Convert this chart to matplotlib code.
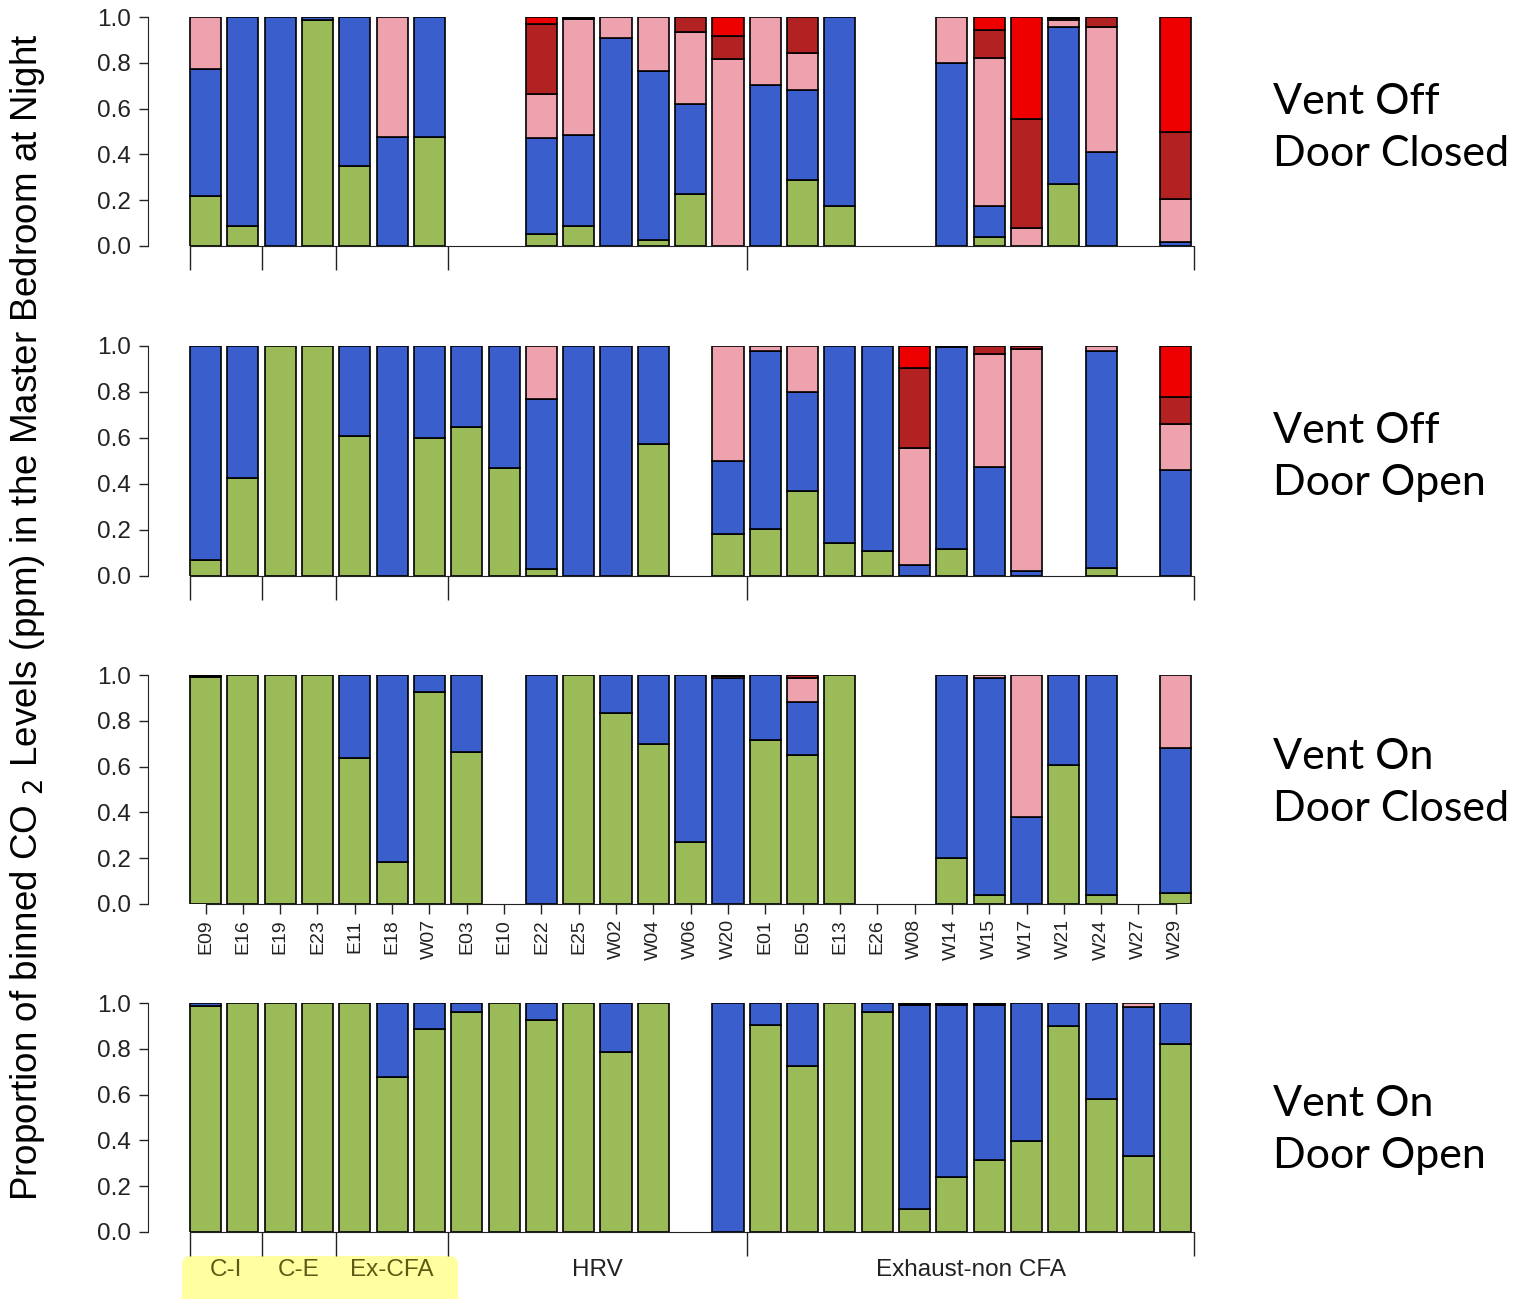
import matplotlib
matplotlib.use("Agg")
import matplotlib.pyplot as plt
from matplotlib.patches import FancyBboxPatch
import numpy as np

# houses in plotting order, with their ventilation groups
houses = ["E09", "E16", "E19", "E23", "E11", "E18", "W07", "E03", "E10", "E22",
          "E25", "W02", "W04", "W06", "W20", "E01", "E05", "E13", "E26", "W08",
          "W14", "W15", "W17", "W21", "W24", "W27", "W29"]
group_names = ["C-I", "C-E", "Ex-CFA", "HRV", "Exhaust-non CFA"]
group_sizes = [2, 2, 3, 8, 12]

# proportion of night hours in each CO2 bin (lowest -> highest), 0 = no data
# Vent Off / Door Closed
off_closed_bin1 = [.22, .087, 0, .986, .351, 0, .478, 0, 0, .053, .087, 0, .026, .228, 0,
                   0, .289, .175, 0, 0, 0, .04, 0, .27, 0, 0, 0]
off_closed_bin2 = [.555, .913, 1, .014, .649, .474, .522, 0, 0, .42, .397, .91, .737, .392, 0,
                   .701, .393, .825, 0, 0, .798, .135, 0, .687, .412, 0, .019]
off_closed_bin3 = [.225, 0, 0, 0, 0, .526, 0, 0, 0, .192, .506, .09, .237, .316, .815,
                   .299, .16, 0, 0, 0, .202, .647, .08, .03, .545, 0, .188]
off_closed_bin4 = [0, 0, 0, 0, 0, 0, 0, 0, 0, .306, .007, 0, 0, .064, .103,
                   0, .158, 0, 0, 0, 0, .122, .473, .008, .043, 0, .292]
off_closed_bin5 = [0, 0, 0, 0, 0, 0, 0, 0, 0, .029, .003, 0, 0, 0, .082,
                   0, 0, 0, 0, 0, 0, .056, .447, .005, 0, 0, .501]

# Vent Off / Door Open
off_open_bin1 = [.07, .428, 1, 1, .609, 0, .601, .649, .468, .029, 0, 0, .575, 0, .183,
                 .203, .371, .142, .109, 0, .116, 0, 0, 0, .033, 0, 0]
off_open_bin2 = [.93, .572, 0, 0, .391, 1, .399, .351, .532, .742, 1, 1, .425, 0, .317,
                 .777, .428, .858, .891, .048, .878, .475, .022, 0, .947, 0, .459]
off_open_bin3 = [0, 0, 0, 0, 0, 0, 0, 0, 0, .229, 0, 0, 0, 0, .5,
                 .02, .201, 0, 0, .507, 0, .49, .964, 0, .02, 0, .202]
off_open_bin4 = [0, 0, 0, 0, 0, 0, 0, 0, 0, 0, 0, 0, 0, 0, 0,
                 0, 0, 0, 0, .351, .004, .035, .014, 0, 0, 0, .116]
off_open_bin5 = [0, 0, 0, 0, 0, 0, 0, 0, 0, 0, 0, 0, 0, 0, 0,
                 0, 0, 0, 0, .094, .002, 0, 0, 0, 0, 0, .223]

# Vent On / Door Closed
on_closed_bin1 = [.993, 1, 1, 1, .636, .183, .926, .663, 0, 0, 1, .832, .697, .27, 0,
                  .717, .649, 1, 0, 0, .202, .041, 0, .608, .041, 0, .046]
on_closed_bin2 = [.003, 0, 0, 0, .364, .817, .074, .337, 0, 1, 0, .168, .303, .73, .988,
                  .283, .231, 0, 0, 0, .798, .947, .379, .392, .959, 0, .636]
on_closed_bin3 = [.002, 0, 0, 0, 0, 0, 0, 0, 0, 0, 0, 0, 0, 0, .009,
                  0, .108, 0, 0, 0, 0, .012, .621, 0, 0, 0, .318]
on_closed_bin4 = [.002, 0, 0, 0, 0, 0, 0, 0, 0, 0, 0, 0, 0, 0, .003,
                  0, .012, 0, 0, 0, 0, 0, 0, 0, 0, 0, 0]
on_closed_bin5 = [0] * 27

# Vent On / Door Open
on_open_bin1 = [.985, 1, 1, 1, 1, .675, .885, .959, 1, .925, 1, .784, 1, 0, 0,
                .906, .723, 1, .959, .1, .242, .316, .398, .898, .582, .331, .819]
on_open_bin2 = [.015, 0, 0, 0, 0, .325, .115, .041, 0, .075, 0, .216, 0, 0, 1,
                .094, .277, 0, .041, .893, .751, .677, .602, .102, .418, .652, .181]
on_open_bin3 = [0, 0, 0, 0, 0, 0, 0, 0, 0, 0, 0, 0, 0, 0, 0,
                0, 0, 0, 0, .002, .002, .002, 0, 0, 0, .017, 0]
on_open_bin4 = [0, 0, 0, 0, 0, 0, 0, 0, 0, 0, 0, 0, 0, 0, 0,
                0, 0, 0, 0, .005, .005, .005, 0, 0, 0, 0, 0]
on_open_bin5 = [0] * 27

panel_titles = ["Vent Off\nDoor Closed", "Vent Off\nDoor Open",
                "Vent On\nDoor Closed", "Vent On\nDoor Open"]
bin_colors = ["#9BBB59", "#3A5FCD", "#EEA2AD", "#B22222", "#EE0000"]

panels = [
    [off_closed_bin1, off_closed_bin2, off_closed_bin3, off_closed_bin4, off_closed_bin5],
    [off_open_bin1, off_open_bin2, off_open_bin3, off_open_bin4, off_open_bin5],
    [on_closed_bin1, on_closed_bin2, on_closed_bin3, on_closed_bin4, on_closed_bin5],
    [on_open_bin1, on_open_bin2, on_open_bin3, on_open_bin4, on_open_bin5],
]

W, H = 1525, 1299
fig = plt.figure(figsize=(W / 100, H / 100), dpi=100)

# bar positions like R barplot (width 1, space 0.2)
centers = 0.7 + 1.2 * np.arange(len(houses))
cum = np.cumsum([0] + group_sizes)
bounds = 1.2 * cum + 0.1
bounds[0] = 0.2
mids = (bounds[:-1] + bounds[1:]) / 2

# pixel rows of y=1 and y=0 for each panel, and of the side titles
panel_rows = [(17, 246), (346, 576), (675, 904), (1003, 1232)]
title_rows = [128, 457, 783, 1130]
left_px, right_px = 148, 1210

for p, (bins, title, (ytop, ybot)) in enumerate(zip(panels, panel_titles, panel_rows)):
    ax = fig.add_axes([left_px / W, 1 - ybot / H, (right_px - left_px) / W, (ybot - ytop) / H])
    ax.patch.set_alpha(0)
    bottom = np.zeros(len(houses))
    for vals, col in zip(bins, bin_colors):
        vals = np.array(vals, dtype=float)
        keep = vals > 0
        ax.bar(centers[keep], vals[keep], width=1, bottom=bottom[keep], color=col,
               edgecolor="black", linewidth=1.2, zorder=2)
        bottom += vals

    ax.set_xlim(-1.15, 33.0)
    ax.set_ylim(0, 1)
    ax.spines["top"].set_visible(False)
    ax.spines["right"].set_visible(False)
    ax.spines["left"].set_color("#222222")
    ax.spines["bottom"].set_color("#222222")
    ax.set_yticks(np.arange(0, 1.01, 0.2))
    ax.set_yticklabels([f"{v:.1f}" for v in np.arange(0, 1.01, 0.2)],
                       fontsize=17.5, family="Liberation Sans", color="#222222")
    ax.tick_params(axis="y", length=6.5, width=1, color="#222222", pad=6)

    if p == 2:
        ax.spines["bottom"].set_bounds(centers[0], centers[-1])
        ax.set_xticks(centers)
        ax.set_xticklabels(houses, rotation=90, fontsize=14, family="Liberation Sans",
                           color="#222222")
        ax.tick_params(axis="x", length=7, width=1, color="#222222", pad=4)
    else:
        ax.spines["bottom"].set_bounds(bounds[0], bounds[-1])
        ax.set_xticks(bounds)
        ax.set_xticklabels([])
        ax.tick_params(axis="x", length=17, width=1, color="#222222")

    if p == 3:
        for i, (m, name) in enumerate(zip(mids, group_names)):
            col = "#5E5A14" if i < 3 else "#222222"
            ax.text(m, -0.168, name, transform=ax.get_xaxis_transform(), ha="center",
                    va="center", fontsize=17.5, family="Liberation Sans", color=col)

    fig.text(1273 / W, 1 - title_rows[p] / H, title, ha="left", va="center",
             fontsize=31, family="Lato", linespacing=1.48)

# yellow highlight behind the first three group labels
hl = FancyBboxPatch((182 / W, -0.01), (458 - 182) / W, (1299 - 1256) / H + 0.01,
                    boxstyle="round,pad=0,rounding_size=0.006", transform=fig.transFigure,
                    facecolor="#FFFFA0", edgecolor="none", zorder=-5)
fig.patches.append(hl)

fig.text(28 / W, 1 - 617 / H,
         "Proportion of binned CO $_2$ Levels (ppm) in the Master Bedroom at Night",
         rotation=90, ha="center", va="center", fontsize=26.5, family="Liberation Sans")

plt.savefig("out.png", dpi=100)
